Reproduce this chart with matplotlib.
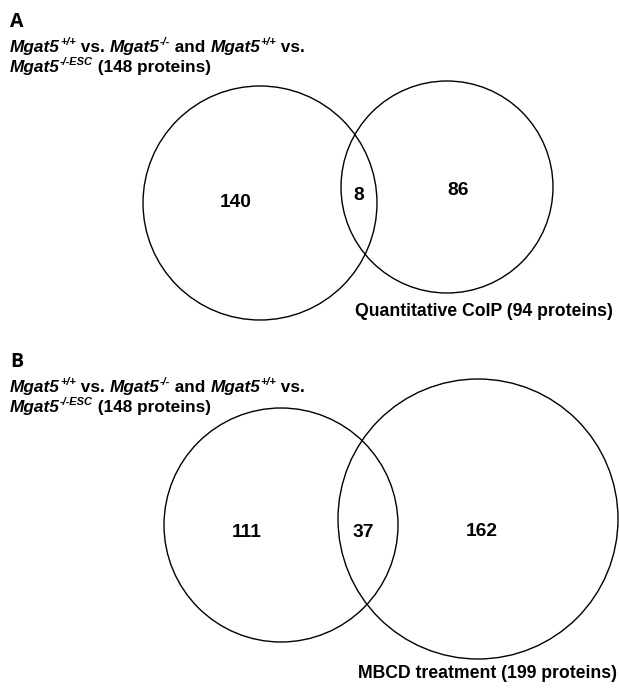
import matplotlib
matplotlib.use("Agg")
import matplotlib.pyplot as plt
from matplotlib.patches import Circle

# Venn counts: (left only, overlap, right only)
counts_a = [140, 8, 86]
counts_b = [111, 37, 162]
label_a = "Quantitative CoIP (94 proteins)"
label_b = "MBCD treatment (199 proteins)"
total_left = 148

W, H = 619, 691
fig = plt.figure(figsize=(W / 100, H / 100), dpi=100)
ax = fig.add_axes([0, 0, 1, 1])
ax.set_xlim(0, W)
ax.set_ylim(H, 0)
ax.axis("off")

FONT = "Liberation Sans"
renderer = fig.canvas.get_renderer()


def rich_line(x, y, pieces, size=12.4):
    # pieces: (text, italic, superscript)
    for txt, ital, sup in pieces:
        fs = size * 0.64 if sup else size
        yy = y - size * 0.55 if sup else y
        t = ax.text(x, yy, txt, fontsize=fs, fontfamily=FONT, fontweight="bold",
                    fontstyle="italic" if ital else "normal", va="baseline", ha="left")
        bb = t.get_window_extent(renderer=renderer)
        x += bb.width + 0.2


def header(letter, y0):
    ax.text(10, y0, letter, fontsize=14, fontfamily="Open Sans", fontweight="bold", va="baseline")
    rich_line(10, y0 + 25, [("Mgat5", True, False), ("+/+", True, True), (" vs. ", False, False),
                            ("Mgat5", True, False), ("-/-", True, True), (" and ", False, False),
                            ("Mgat5", True, False), ("+/+", True, True), (" vs.", False, False)])
    rich_line(10, y0 + 45, [("Mgat5", True, False), ("-/-ESC", True, True),
                            (" (%d proteins)" % total_left, False, False)])


def venn(c1, r1, c2, r2, counts, pos, right_label, label_xy):
    for c, r in [(c1, r1), (c2, r2)]:
        ax.add_patch(Circle(c, r, fill=False, lw=1.0, ec="black"))
    for n, (x, y) in zip(counts, pos):
        ax.text(x, y, str(n), fontsize=13.8, fontfamily=FONT, fontweight="bold",
                ha="center", va="baseline")
    ax.text(label_xy[0], label_xy[1], right_label, fontsize=12.7, fontfamily=FONT,
            fontweight="bold", ha="right", va="baseline")


header("A", 27)
venn((260, 203), 117, (447, 187), 106, counts_a,
     [(236, 207), (359, 200), (458, 195)], label_a, (613, 316))

header("B", 367)
venn((281, 525), 117, (478, 519), 140, counts_b,
     [(247, 537), (363, 537), (482, 536)], label_b, (617, 678))

fig.savefig("out.png", dpi=100)
